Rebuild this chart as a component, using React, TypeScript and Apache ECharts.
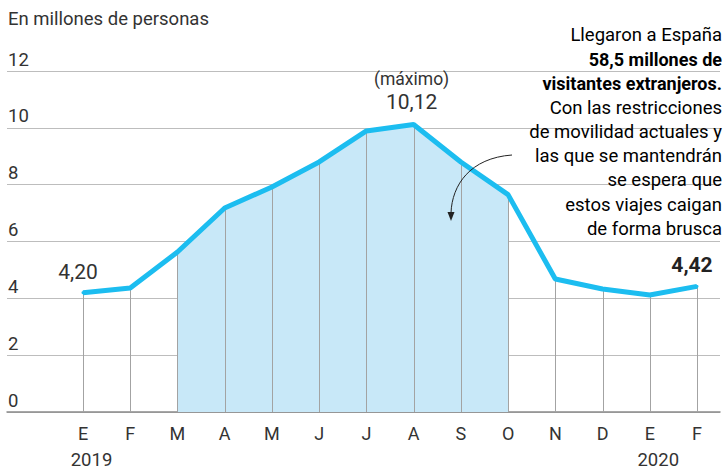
import React, { useEffect, useRef } from "react";
import * as echarts from "echarts";

const months = ["E", "F", "M", "A", "M", "J", "J", "A", "S", "O", "N", "D", "E", "F"];
const visitors = [4.2, 4.36, 5.63, 7.18, 7.92, 8.8, 9.89, 10.12, 8.8, 7.65, 4.68, 4.33, 4.12, 4.42];
const years = ["2019", "2020"];
const yearIndex = [0, 12];
const shadeStart = 2;
const shadeEnd = 9;
const labelled = [0, 7, 13];
const yTicks = [0, 2, 4, 6, 8, 10, 12];
const subtitle = "En millones de personas";
const noteLines: [string, boolean][] = [
  ["Llegaron a España", false],
  ["58,5 millones de", true],
  ["visitantes extranjeros.", true],
  ["Con las restricciones", false],
  ["de movilidad actuales y", false],
  ["las que se mantendrán", false],
  ["se espera que", false],
  ["estos viajes caigan", false],
  ["de forma brusca", false],
];

const FONT = "Roboto";
const fmt = (v: number) => v.toFixed(2).replace(".", ",");

export default function App() {
  const ref = useRef<HTMLDivElement>(null);
  useEffect(() => {
    if (!ref.current) return;
    const chart = echarts.init(ref.current, null, { renderer: "svg" });
    const xMin = -1.609;
    const xMax = 13.487;
    const maxV = Math.max(...visitors);

    const lineData = visitors.map((v, i) => {
      const item: any = { value: [i, v] };
      if (labelled.includes(i)) {
        const isMax = v === maxV;
        const isLast = i === visitors.length - 1;
        item.label = {
          show: true,
          position: "top",
          distance: 9,
          offset: isMax ? [-2, 0] : [-5, 0],
          fontFamily: FONT,
          fontSize: 21,
          fontWeight: isLast ? "bold" : "normal",
          color: isLast ? "#222" : "#333",
          formatter: isMax ? `{a|(máximo)}\n{b|${fmt(v)}}` : fmt(v),
          rich: isMax
            ? {
                a: { fontFamily: FONT, fontSize: 17.5, color: "#333", lineHeight: 22, align: "center" },
                b: { fontFamily: FONT, fontSize: 21, color: "#333", lineHeight: 24, align: "center" },
              }
            : undefined,
        };
      }
      return item;
    });

    const rich: any = {
      r: { fontFamily: FONT, fontSize: 18.5, color: "#333", lineHeight: 24.2, align: "right" },
      b: { fontFamily: FONT, fontSize: 18, fontWeight: "bold", color: "#222", lineHeight: 24.2, align: "right" },
    };
    const noteText = noteLines.map(([t, b]) => `{${b ? "b" : "r"}|${t}}`).join("\n");

    chart.setOption({
      animation: false,
      grid: { left: 7, right: 5, top: 71, bottom: 63, containLabel: false },
      xAxis: [
        {
          type: "value",
          min: xMin,
          max: xMax,
          splitLine: { show: false },
          axisTick: { show: false },
          axisLine: { show: true, onZero: false, lineStyle: { color: "#8a8a8a", width: 1.5 } },
          axisLabel: {
            customValues: months.map((_, i) => i),
            formatter: (v: number) => months[Math.round(v)] ?? "",
            margin: 12,
            fontFamily: FONT,
            fontSize: 18,
            color: "#333",
          },
        },
        {
          type: "value",
          min: xMin,
          max: xMax,
          position: "bottom",
          splitLine: { show: false },
          axisTick: { show: false },
          axisLine: { show: false },
          axisLabel: {
            customValues: yearIndex.map((i) => i + 0.18),
            formatter: (v: number) => years[v < 6 ? 0 : 1],
            margin: 38,
            fontFamily: FONT,
            fontSize: 18.5,
            color: "#333",
          },
        },
      ],
      yAxis: {
        type: "value",
        min: yTicks[0],
        max: yTicks[yTicks.length - 1],
        interval: 2,
        axisLine: { show: false },
        axisTick: { show: false },
        splitLine: { lineStyle: { color: "#bdbdbd", width: 1 } },
        axisLabel: {
          inside: true,
          margin: 1,
          verticalAlign: "bottom",
          padding: [0, 0, 2, 0],
          fontFamily: FONT,
          fontSize: 18.5,
          color: "#333",
        },
      },
      series: [
        {
          type: "line",
          data: visitors.slice(shadeStart, shadeEnd + 1).map((v, k) => [shadeStart + k, v]),
          symbol: "none",
          lineStyle: { width: 0 },
          areaStyle: { color: "#c8e8f8", opacity: 1 },
          silent: true,
          z: 1,
        },
        {
          type: "custom",
          data: visitors.map((v, i) => [i, v]),
          encode: { x: 0, y: 1 },
          z: 2,
          renderItem: (params: any, api: any) => {
            const top = api.coord([api.value(0), api.value(1)]);
            const bot = api.coord([api.value(0), 0]);
            const x = Math.round(top[0]) + 0.5;
            return {
              type: "line",
              shape: { x1: x, y1: top[1], x2: x, y2: bot[1] },
              style: { stroke: "#a3a3a3", lineWidth: 1 },
            };
          },
        },
        {
          type: "line",
          data: lineData,
          symbol: "circle",
          symbolSize: 3,
          showSymbol: true,
          itemStyle: { color: "#1cbdf0" },
          lineStyle: { color: "#1cbdf0", width: 5 },
          z: 3,
        },
      ],
      graphic: [
        {
          type: "text",
          left: 8,
          top: 9,
          style: { text: subtitle, fontFamily: FONT, fontSize: 18.5, fill: "#333" },
        },
        {
          type: "text",
          x: 722,
          y: 23,
          style: { text: noteText, rich, align: "right", verticalAlign: "top", fontFamily: FONT },
          z: 10,
        },
        {
          type: "bezierCurve",
          shape: { x1: 512, y1: 155, cpx1: 470, cpy1: 158, cpx2: 452, cpy2: 185, x2: 451, y2: 213 },
          style: { stroke: "#222", lineWidth: 1, fill: null },
          z: 10,
        },
        {
          type: "polygon",
          shape: { points: [[447.5, 212], [454.5, 212], [451, 221]] },
          style: { fill: "#222" },
          z: 10,
        },
      ],
    });
    return () => chart.dispose();
  }, []);
  return (
    <div
      ref={ref}
      style={{ position: "fixed", left: 0, top: 0, width: 725, height: 475, background: "#fff" }}
    />
  );
}
